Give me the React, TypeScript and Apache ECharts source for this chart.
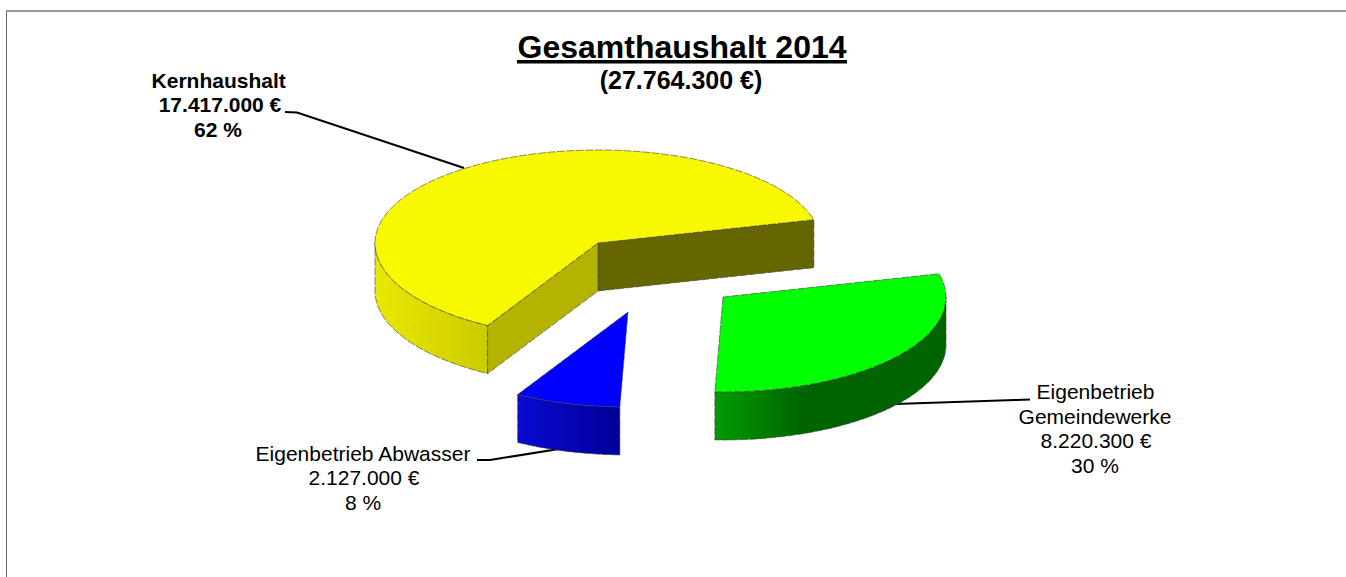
import React, { useEffect, useRef } from "react";
import * as echarts from "echarts";

// ---- data ----
const titleText = "Gesamthaushalt 2014";
const subtitleText = "(27.764.300 €)";
const categories = ["Kernhaushalt", "Eigenbetrieb Abwasser", "Eigenbetrieb Gemeindewerke"];
const values = [17417000, 2127000, 8220300];
const valueLabels = ["17.417.000 €", "2.127.000 €", "8.220.300 €"];
const percentLabels = ["62 %", "8 %", "30 %"];

// ---- layout and styles ----
const W = 1346;
const H = 577;
const FONT = '"Liberation Sans", Arial, sans-serif';
const START_ANGLE = 14.5;
const RX = 223;
const RY_BACK = 93;
const RY_FRONT = 95;
const DEPTH = 48;
const centers = [
  [598, 243],
  [628, 312],
  [723, 297],
];
const topColors = ["#f8f800", "#0000ff", "#00ff00"];
const sideStops = [
  ["#e8e800", "#cccc00"],
  ["#0a0ad4", "#000096"],
  ["#009c00", "#006400"],
];
const cutColors = ["#666600", "#000099", "#006600"];
const cut2Colors = ["#b3b300", "#0000cc", "#00cc00"];
const EDGE = { stroke: "#3c3c3c", lineWidth: 0.6, lineDash: [8, 1.5] };

const total = values.reduce((a, b) => a + b, 0);

function project(c: number[], deg: number, dy = 0): number[] {
  const t = (deg * Math.PI) / 180;
  const s = Math.sin(t);
  return [c[0] + RX * Math.cos(t), c[1] - s * (s > 0 ? RY_BACK : RY_FRONT) + dy];
}

function arc(c: number[], from: number, to: number, dy = 0): number[][] {
  const pts: number[][] = [];
  const n = Math.max(2, Math.ceil(Math.abs(to - from) / 2));
  for (let i = 0; i <= n; i++) pts.push(project(c, from + ((to - from) * i) / n, dy));
  return pts;
}

function renderSlice(params: any, api: any) {
  const i = params.dataIndex;
  const value = api.value(0);
  let before = 0;
  for (let k = 0; k < i; k++) before += values[k];
  const a0 = START_ANGLE + (before / total) * 360;
  const a1 = a0 + (value / total) * 360;
  const c = centers[i];
  const children: any[] = [];

  // outer wall: the part of the rim facing the viewer (angles 180..360 and repeats)
  const ranges: number[][] = [];
  for (const [lo, hi] of [
    [180, 360],
    [540, 720],
  ]) {
    const f = Math.max(a0, lo);
    const t = Math.min(a1, hi);
    if (t > f) ranges.push([f, t]);
  }
  for (const [f, t] of ranges) {
    const topPts = arc(c, f, t);
    const botPts = arc(c, f, t, DEPTH).reverse();
    children.push({
      type: "polygon",
      shape: { points: topPts.concat(botPts) },
      style: {
        fill: new echarts.graphic.LinearGradient(0, 0, 1, 0, [
          { offset: 0, color: sideStops[i][0] },
          { offset: i === 2 ? 0.38 : 1, color: sideStops[i][1] },
          { offset: 1, color: sideStops[i][1] },
        ]),
        ...EDGE,
      },
    });
  }

  // cut faces of the large slice, visible through the gap
  if (i === 0) {
    const pA = project(c, a0);
    const pB = project(c, a1);
    children.push({
      type: "polygon",
      shape: { points: [c, pA, [pA[0], pA[1] + DEPTH], [c[0], c[1] + DEPTH]] },
      style: { fill: cutColors[i], ...EDGE },
    });
    children.push({
      type: "polygon",
      shape: { points: [c, pB, [pB[0], pB[1] + DEPTH], [c[0], c[1] + DEPTH]] },
      style: { fill: cut2Colors[i], ...EDGE },
    });
  }

  // top face
  children.push({
    type: "polygon",
    shape: { points: [c, ...arc(c, a0, a1)] },
    style: { fill: topColors[i], ...EDGE },
  });
  return { type: "group", children };
}

function text(str: string, x: number, y: number, size: number, bold: boolean) {
  return {
    type: "text",
    x,
    y,
    silent: true,
    style: {
      text: str,
      fontFamily: FONT,
      fontSize: size,
      fontWeight: bold ? "bold" : "normal",
      fill: "#000",
      align: "center",
      verticalAlign: "middle",
    },
  };
}

function leader(points: number[][]) {
  return {
    type: "polyline",
    silent: true,
    shape: { points },
    style: { stroke: "#000", lineWidth: 2, fill: "none" },
  };
}

export default function App() {
  const ref = useRef<HTMLDivElement>(null);
  useEffect(() => {
    document.body.style.margin = "0";
    const chart = echarts.init(ref.current!, null, { renderer: "svg" });
    chart.setOption({
      animation: false,
      backgroundColor: "#fff",
      series: [
        {
          type: "custom",
          coordinateSystem: "none",
          silent: true,
          data: values.map((v, i) => ({ name: categories[i], value: [v] })),
          renderItem: renderSlice,
        },
      ],
      graphic: [
        { type: "rect", silent: true, shape: { x: 6, y: 10, width: 1, height: H - 10 }, style: { fill: "#666" } },
        { type: "rect", silent: true, shape: { x: 6, y: 10, width: W - 6, height: 2 }, style: { fill: "#999" } },
        text(titleText, 682, 47, 32, true),
        { type: "rect", silent: true, shape: { x: 517, y: 60, width: 330, height: 3.5 }, style: { fill: "#000" } },
        text(subtitleText, 681, 80, 25, true),
        text(categories[0], 218.7, 80, 21, true),
        text(valueLabels[0], 220, 104, 21, true),
        text(percentLabels[0], 218, 129, 21, true),
        text("Eigenbetrieb Abwasser", 363, 453, 21, false),
        text(valueLabels[1], 364, 477, 21, false),
        text(percentLabels[1], 363, 502, 21, false),
        text("Eigenbetrieb", 1095.5, 391, 21, false),
        text("Gemeindewerke", 1095, 416, 21, false),
        text(valueLabels[2], 1096, 440, 21, false),
        text(percentLabels[2], 1095, 465, 21, false),
        leader([[285, 112], [297, 112.5], [464, 168]]),
        leader([[477, 460], [490, 460], [565, 448]]),
        leader([[895, 404], [1015, 400], [1030, 399.5]]),
      ],
    });
    return () => chart.dispose();
  }, []);
  return <div ref={ref} style={{ position: "absolute", left: 0, top: 0, width: W, height: H }} />;
}
